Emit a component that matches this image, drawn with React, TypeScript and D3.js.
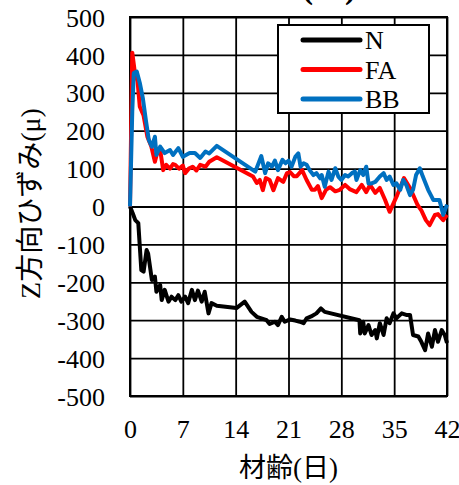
import { axisBottom, axisLeft, line, range, scaleLinear, select } from "d3";
import React, { useEffect, useRef } from "react";

// 材齢(日) and strain values
const nDays = [0, 0.4, 0.7, 1.1, 1.3, 1.5, 1.8, 2.2, 2.4, 2.9, 3.3, 3.5, 4.0, 4.2, 4.6, 5.1, 5.5, 6.0, 6.4, 6.8, 7.3, 7.7, 8.2, 8.6, 9.0, 9.5, 9.9, 10.4, 10.8, 11.5, 14.1, 15.2, 16.1, 16.8, 17.4, 18.1, 18.5, 19.2, 19.6, 20.1, 20.5, 21.2, 21.9, 22.5, 23.0, 23.4, 24.0, 24.7, 25.3, 25.8, 30.4, 30.5, 30.9, 31.1, 31.6, 32.0, 32.5, 32.7, 33.1, 33.6, 34.0, 34.4, 34.9, 35.3, 36.0, 36.6, 37.1, 37.5, 38.2, 38.6, 39.1, 39.5, 40.0, 40.4, 40.8, 41.3, 41.7, 42];
const nValues = [0, -20, -36, -44, -106, -168, -172, -115, -124, -194, -185, -225, -207, -247, -220, -251, -238, -247, -234, -251, -238, -255, -220, -247, -222, -251, -225, -282, -255, -262, -268, -251, -278, -291, -295, -300, -310, -304, -313, -291, -304, -298, -301, -304, -308, -295, -290, -282, -269, -278, -300, -335, -304, -335, -313, -339, -326, -348, -308, -339, -295, -308, -282, -295, -282, -286, -286, -339, -343, -357, -379, -335, -370, -326, -357, -326, -339, -360];

const faDays = [0, 0.3, 0.6, 1.0, 1.3, 1.8, 2.3, 2.8, 3.3, 3.7, 4.0, 4.4, 4.8, 5.3, 5.7, 6.0, 6.5, 7.0, 7.3, 7.8, 8.3, 8.8, 9.3, 10.0, 10.5, 11.5, 16.3, 16.8, 17.2, 17.6, 18.0, 18.5, 19.0, 19.6, 20.3, 20.8, 21.2, 21.7, 22.1, 22.8, 23.4, 24.1, 24.5, 24.9, 25.4, 26.0, 26.5, 27.2, 27.8, 28.5, 29.1, 30.0, 30.7, 31.3, 31.8, 32.5, 33.1, 33.8, 34.4, 35.4, 36.3, 37.1, 38.1, 38.6, 39.2, 39.7, 40.4, 40.8, 41.5, 42];
const faValues = [0, 406, 360, 330, 263, 240, 184, 160, 118, 150, 149, 96, 110, 100, 112, 110, 100, 108, 88, 100, 105, 95, 110, 105, 118, 130, 79, 62, 70, 43, 75, 70, 43, 75, 65, 88, 91, 80, 80, 96, 70, 44, 44, 54, 22, 45, 51, 40, 44, 57, 46, 38, 57, 38, 57, 36, 49, 17, -14, 30, 75, 49, 4, -10, -36, -49, -22, -20, -36, -22];

const bbDays = [0, 0.3, 0.5, 0.9, 1.3, 1.7, 2.1, 2.5, 2.9, 3.3, 3.5, 4.0, 4.6, 5.3, 5.7, 6.4, 7.0, 7.9, 8.6, 9.3, 10.0, 10.5, 11.5, 16.6, 17.4, 17.9, 18.3, 18.8, 19.2, 19.6, 20.2, 20.6, 21.0, 21.4, 21.9, 22.3, 22.6, 23.0, 23.4, 23.8, 24.3, 24.7, 25.2, 25.4, 25.8, 26.3, 26.7, 27.2, 27.6, 28.0, 28.5, 28.9, 29.4, 29.8, 30.0, 30.5, 30.9, 31.3, 31.6, 32.0, 32.5, 33.1, 33.6, 34.0, 34.4, 34.9, 35.3, 35.8, 36.2, 36.6, 37.1, 37.5, 37.9, 38.4, 38.8, 39.5, 40.2, 41.0, 41.5, 42];
const bbValues = [0, 250, 352, 356, 326, 286, 228, 175, 158, 184, 136, 158, 141, 149, 136, 154, 131, 141, 141, 128, 145, 140, 160, 92, 133, 88, 114, 105, 121, 96, 123, 114, 121, 105, 131, 140, 105, 114, 110, 96, 83, 88, 74, 83, 52, 92, 70, 101, 79, 70, 83, 79, 88, 92, 70, 96, 83, 105, 61, 61, 65, 79, 88, 70, 79, 57, 61, 44, 70, 57, 30, 44, 83, 101, 79, 44, 17, 17, -22, 5];

const seriesNames = ["N", "FA", "BB"];
const seriesColors = ["#000000", "#ff0000", "#0070c0"];
const xTicks = [0, 7, 14, 21, 28, 35, 42];
const yTicks = range(-500, 501, 100);

const FONT = '"Liberation Serif", "Times New Roman", "Noto Sans CJK JP", serif';

const StrainChart: React.FC = () => {
    const svgRef = useRef<SVGSVGElement>(null);

    useEffect(() => {
        if (svgRef.current) {
            svgRef.current.innerHTML = "";
        }

        const width = 459,
            height = 485;
        const margin = { top: 17, right: 12, bottom: 89, left: 130 };
        const plotW = width - margin.left - margin.right;
        const plotH = height - margin.top - margin.bottom;

        const xScale = scaleLinear().domain([0, 42]).range([0, plotW]);
        const yScale = scaleLinear().domain([-500, 500]).range([plotH, 0]);

        const svg = select(svgRef.current)
            .attr("width", width)
            .attr("height", height);

        // title, mostly cut off at the top like the original
        svg.append("text")
            .attr("x", 329)
            .attr("y", -2)
            .attr("text-anchor", "middle")
            .style("font-family", FONT)
            .style("font-size", "34px")
            .style("font-weight", "bold")
            .style("white-space", "pre")
            .text("( c )");

        const g = svg
            .append("g")
            .attr("transform", "translate(" + margin.left + "," + margin.top + ")");

        // horizontal grid + y labels
        g.append("g")
            .call(
                axisLeft(yScale)
                    .tickValues(yTicks)
                    .tickSize(-plotW)
                    .tickPadding(25)
                    .tickFormat(d => String(d)),
            )
            .call(a => a.select(".domain").remove())
            .call(a =>
                a.selectAll(".tick line")
                    .attr("stroke", "#000")
                    .attr("stroke-width", 1.8),
            )
            .call(a =>
                a.selectAll(".tick text")
                    .attr("fill", "#000")
                    .attr("dy", "0.35em")
                    .style("font-family", FONT)
                    .style("font-size", "26px"),
            );

        // vertical grid + x labels
        g.append("g")
            .attr("transform", "translate(0," + plotH + ")")
            .call(
                axisBottom(xScale)
                    .tickValues(xTicks)
                    .tickSize(-plotH)
                    .tickPadding(24)
                    .tickFormat(d => String(d)),
            )
            .call(a => a.select(".domain").remove())
            .call(a =>
                a.selectAll(".tick line")
                    .attr("stroke", "#000")
                    .attr("stroke-width", 1.8),
            )
            .call(a =>
                a.selectAll(".tick text")
                    .attr("fill", "#000")
                    .style("font-family", FONT)
                    .style("font-size", "26px"),
            );

        g.append("rect")
            .attr("width", plotW)
            .attr("height", plotH)
            .attr("fill", "none")
            .attr("stroke", "#000")
            .attr("stroke-width", 2);

        const myLine = line<[number, number]>()
            .x(d => xScale(d[0]))
            .y(d => yScale(d[1]));

        const allDays = [nDays, faDays, bbDays];
        const allValues = [nValues, faValues, bbValues];

        allDays.forEach((days, i) => {
            const pts = days.map((d, j) => [d, allValues[i][j]] as [number, number]);
            g.append("path")
                .datum(pts)
                .attr("fill", "none")
                .attr("stroke", seriesColors[i])
                .attr("stroke-width", 4)
                .attr("stroke-linejoin", "round")
                .attr("d", myLine);
        });

        // legend
        const legend = svg.append("g");
        legend
            .append("rect")
            .attr("x", 278)
            .attr("y", 25)
            .attr("width", 151)
            .attr("height", 88)
            .attr("fill", "#fff")
            .attr("stroke", "#000")
            .attr("stroke-width", 2);

        seriesNames.forEach((name, i) => {
            const y = 40 + i * 29.5;
            legend
                .append("line")
                .attr("x1", 303)
                .attr("x2", 360)
                .attr("y1", y)
                .attr("y2", y)
                .attr("stroke", seriesColors[i])
                .attr("stroke-width", 5)
                .attr("stroke-linecap", "round");
            legend
                .append("text")
                .attr("x", 365)
                .attr("y", y)
                .attr("dy", "0.35em")
                .style("font-family", FONT)
                .style("font-size", "26px")
                .text(name);
        });

        // axis titles
        svg.append("text")
            .attr("x", margin.left + plotW / 2)
            .attr("y", 477)
            .attr("text-anchor", "middle")
            .style("font-family", FONT)
            .style("font-size", "27px")
            .text("材齢(日)");

        svg.append("text")
            .attr("transform", "translate(30," + (margin.top + plotH / 2 - 3) + ") rotate(-90)")
            .attr("text-anchor", "middle")
            .attr("dy", "0.35em")
            .style("font-family", FONT)
            .style("font-size", "28px")
            .text("Z方向ひずみ(μ)");
    }, []);

    return <svg ref={svgRef} style={{ display: "block" }}></svg>;
};

export default function App() {
    return (
        <div>
            <style>{"body{margin:0}"}</style>
            <StrainChart />
        </div>
    );
}
